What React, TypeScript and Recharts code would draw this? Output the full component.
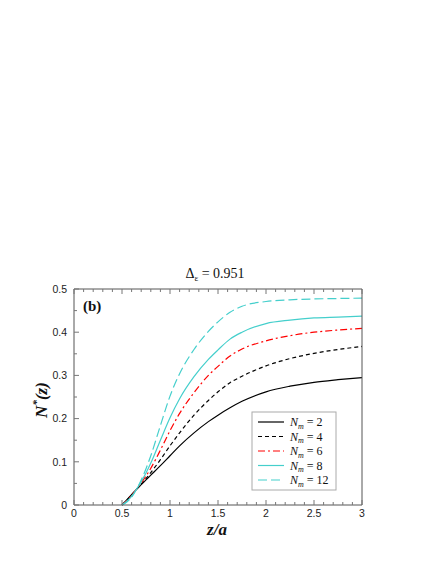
import { LineChart, Line, XAxis, YAxis } from 'recharts';

// z/a sample positions and N*(z)
const zValues = [0.5, 0.55, 0.6, 0.65, 0.7, 0.75, 0.8, 0.9, 1.0, 1.1, 1.25, 1.4, 1.5, 1.625, 1.75, 2, 2.25, 2.5, 2.75, 3];
const nm2 = [0, 0.012, 0.024, 0.036, 0.047, 0.058, 0.069, 0.091, 0.114, 0.137, 0.167, 0.193, 0.208, 0.225, 0.24, 0.262, 0.275, 0.284, 0.29, 0.295];
const nm4 = [0, 0.011, 0.023, 0.036, 0.048, 0.061, 0.075, 0.105, 0.137, 0.167, 0.208, 0.242, 0.262, 0.283, 0.298, 0.322, 0.339, 0.351, 0.36, 0.367];
const nm6 = [0, 0.01, 0.022, 0.036, 0.051, 0.067, 0.085, 0.127, 0.172, 0.212, 0.26, 0.3, 0.321, 0.345, 0.361, 0.38, 0.392, 0.4, 0.405, 0.409];
const nm8 = [0, 0.009, 0.02, 0.036, 0.054, 0.074, 0.097, 0.15, 0.202, 0.246, 0.297, 0.337, 0.359, 0.384, 0.4, 0.42, 0.428, 0.433, 0.435, 0.437];
const nm12 = [0, 0.007, 0.018, 0.036, 0.058, 0.084, 0.114, 0.184, 0.252, 0.304, 0.36, 0.402, 0.424, 0.446, 0.46, 0.471, 0.475, 0.477, 0.478, 0.479];

const xMajor = [0, 0.5, 1, 1.5, 2, 2.5, 3];
const yMajor = [0, 0.1, 0.2, 0.3, 0.4, 0.5];
const xMinor = Array.from({ length: 31 }, (_, i) => +(i * 0.1).toFixed(2));
const yMinor = Array.from({ length: 11 }, (_, i) => +(i * 0.05).toFixed(2));

const series = [
  { key: 'nm2', label: '2', color: '#000000', dash: undefined },
  { key: 'nm4', label: '4', color: '#000000', dash: '4 3' },
  { key: 'nm6', label: '6', color: '#ff0000', dash: '7 3 2 3' },
  { key: 'nm8', label: '8', color: '#45cfcc', dash: undefined },
  { key: 'nm12', label: '12', color: '#45cfcc', dash: '9 4' },
];

const data = zValues.map((z, i) => ({ z, nm2: nm2[i], nm4: nm4[i], nm6: nm6[i], nm8: nm8[i], nm12: nm12[i] }));

const W = 436;
const H = 564;
const tickFont = '"Liberation Sans", Arial, sans-serif';
const serif = '"Liberation Serif", "Times New Roman", serif';
const tickColor = '#777';
const frame = '#555';

const isMajor = (v: number, list: number[]) => list.some((m) => Math.abs(m - v) < 1e-6);

function BottomTick(props: any) {
  const { x, y, payload } = props;
  const major = isMajor(payload.value, xMajor);
  return (
    <g>
      <line x1={x} y1={y} x2={x} y2={y - (major ? 5 : 3)} stroke={tickColor} />
      {major && (
        <text x={x} y={y + 12} textAnchor="middle" fontFamily={tickFont} fontSize={10.5} fill="#222">
          {String(payload.value)}
        </text>
      )}
    </g>
  );
}

function TopTick(props: any) {
  const { x, y, payload } = props;
  const major = isMajor(payload.value, xMajor);
  return <line x1={x} y1={y} x2={x} y2={y + (major ? 5 : 3)} stroke={tickColor} />;
}

function LeftTick(props: any) {
  const { x, y, payload } = props;
  const major = isMajor(payload.value, yMajor);
  return (
    <g>
      <line x1={x} y1={y} x2={x + (major ? 5 : 3)} y2={y} stroke={tickColor} />
      {major && (
        <text x={x - 7} y={y + 3.8} textAnchor="end" fontFamily={tickFont} fontSize={10.5} fill="#222">
          {String(payload.value)}
        </text>
      )}
    </g>
  );
}

function RightTick(props: any) {
  const { x, y, payload } = props;
  const major = isMajor(payload.value, yMajor);
  return <line x1={x} y1={y} x2={x - (major ? 5 : 3)} y2={y} stroke={tickColor} />;
}

export default function App() {
  return (
    <div style={{ position: 'absolute', left: 0, top: 0, width: W, height: H, background: '#fff' }}>
      <LineChart width={W} height={H} data={data} margin={{ top: 288, right: 73, bottom: 58, left: 73 }}>
        <XAxis
          xAxisId="b"
          dataKey="z"
          type="number"
          domain={[0, 3]}
          ticks={xMinor}
          interval={0}
          height={1}
          tickSize={0}
          tickMargin={0}
          tickLine={false}
          tick={BottomTick}
          axisLine={{ stroke: frame }}
        />
        <XAxis
          xAxisId="t"
          orientation="top"
          dataKey="z"
          type="number"
          domain={[0, 3]}
          ticks={xMinor}
          interval={0}
          height={1}
          tickSize={0}
          tickMargin={0}
          tickLine={false}
          tick={TopTick}
          axisLine={{ stroke: frame }}
        />
        <YAxis
          yAxisId="l"
          type="number"
          domain={[0, 0.5]}
          ticks={yMinor}
          interval={0}
          width={1}
          tickSize={0}
          tickMargin={0}
          tickLine={false}
          tick={LeftTick}
          axisLine={{ stroke: frame }}
        />
        <YAxis
          yAxisId="r"
          orientation="right"
          type="number"
          domain={[0, 0.5]}
          ticks={yMinor}
          interval={0}
          width={1}
          tickSize={0}
          tickMargin={0}
          tickLine={false}
          tick={RightTick}
          axisLine={{ stroke: frame }}
        />
        {series.map((s) => (
          <Line
            key={s.key}
            xAxisId="b"
            yAxisId="l"
            dataKey={s.key}
            type="monotone"
            stroke={s.color}
            strokeWidth={1.2}
            strokeDasharray={s.dash}
            dot={false}
            activeDot={false}
            isAnimationActive={false}
          />
        ))}
      </LineChart>
      <svg width={W} height={H} style={{ position: 'absolute', left: 0, top: 0, pointerEvents: 'none' }}>
        <text x={215} y={278} textAnchor="middle" fontFamily={serif} fontSize={14} fill="#111">
          Δ<tspan fontSize={9} dy={3}>ε</tspan>
          <tspan dy={-3}> = 0.951</tspan>
        </text>
        <text x={83} y={311} fontFamily={serif} fontSize={15} fontWeight="bold" fill="#111">
          (b)
        </text>
        <text x={217} y={535} textAnchor="middle" fontFamily={serif} fontSize={17} fontWeight="bold" fontStyle="italic" fill="#111">
          z/a
        </text>
        <text
          x={47}
          y={400}
          transform="rotate(-90 47 400)"
          textAnchor="middle"
          fontFamily={serif}
          fontSize={17}
          fontWeight="bold"
          fontStyle="italic"
          fill="#111"
        >
          N<tspan fontSize={11} dy={-7}>*</tspan>
          <tspan dy={7}>(z)</tspan>
        </text>
        <rect x={252} y={412} width={84} height={78} fill="#fff" stroke="#aaa" strokeWidth={1} />
        {series.map((s, i) => {
          const y = 422 + i * 14.5;
          return (
            <g key={s.key}>
              <line x1={258} y1={y} x2={284} y2={y} stroke={s.color} strokeWidth={1.2} strokeDasharray={s.dash} />
              <text x={290} y={y + 4} fontFamily={serif} fontSize={12} fill="#111">
                <tspan fontStyle="italic">N</tspan>
                <tspan fontStyle="italic" fontSize={8} dy={2.5}>m</tspan>
                <tspan dy={-2.5}> = {s.label}</tspan>
              </text>
            </g>
          );
        })}
      </svg>
    </div>
  );
}
